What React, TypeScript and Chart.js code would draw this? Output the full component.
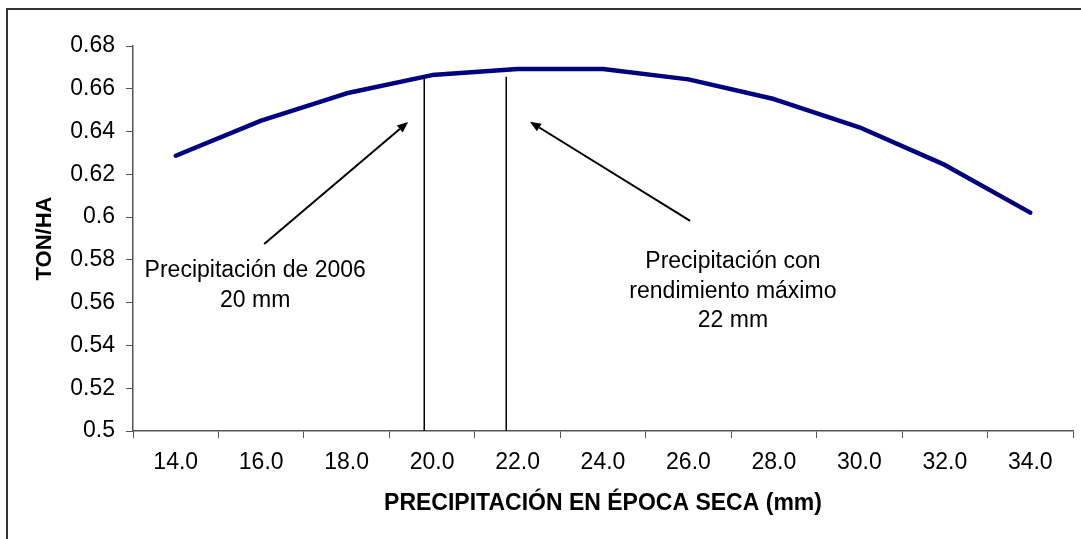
import React, { useEffect, useRef } from "react";
import { Chart, registerables } from "chart.js";

Chart.register(...registerables);

const categories = ["14.0", "16.0", "18.0", "20.0", "22.0", "24.0", "26.0", "28.0", "30.0", "32.0", "34.0"];
const yieldValues = [0.6287, 0.6451, 0.6579, 0.6664, 0.6692, 0.6692, 0.6644, 0.6552, 0.642, 0.6244, 0.6021];
const yTicks = [0.5, 0.52, 0.54, 0.56, 0.58, 0.6, 0.62, 0.64, 0.66, 0.68];

// reference lines (rain in mm, top value in ton/ha)
const markerRain = [19.82, 21.73];
const markerTop = [0.6656, 0.6656];

// arrows (from -> to) in data units
const arrowFromRain = [16.07, 26.04];
const arrowFromYield = [0.5874, 0.5982];
const arrowToRain = [19.44, 22.29];
const arrowToYield = [0.6445, 0.6446];

// notes
const noteRain = [15.86, 27.04];
const noteYield = [0.5748, 0.579];
const noteLines = [
  ["Precipitación de 2006", "20 mm"],
  ["Precipitación con", "rendimiento máximo", "22 mm"],
];

const FONT = "'Liberation Sans', Arial, sans-serif";
const firstRain = 14;
const rainStep = 2;

const overlay = {
  id: "overlay",
  beforeDraw(chart: any) {
    const ctx = chart.ctx;
    ctx.save();
    ctx.fillStyle = "#ffffff";
    ctx.fillRect(0, 0, chart.width, chart.height);
    ctx.strokeStyle = "#333333";
    ctx.lineWidth = 2;
    ctx.strokeRect(7, 9, chart.width + 20, chart.height + 20);
    ctx.restore();
  },
  afterDatasetsDraw(chart: any) {
    const ctx = chart.ctx;
    const xs = chart.scales.x;
    const ys = chart.scales.y;
    const px = (mm: number) => xs.getPixelForValue((mm - firstRain) / rainStep);
    const py = (v: number) => ys.getPixelForValue(v);
    ctx.save();
    // vertical markers
    ctx.strokeStyle = "#000000";
    ctx.lineWidth = 1.5;
    markerRain.forEach((mm, i) => {
      const x = Math.round(px(mm)) + 0.25;
      ctx.beginPath();
      ctx.moveTo(x, py(markerTop[i]));
      ctx.lineTo(x, ys.bottom);
      ctx.stroke();
    });
    // arrows
    ctx.lineWidth = 2;
    ctx.fillStyle = "#000000";
    arrowFromRain.forEach((mm, i) => {
      const x0 = px(mm), y0 = py(arrowFromYield[i]);
      const x1 = px(arrowToRain[i]), y1 = py(arrowToYield[i]);
      const ang = Math.atan2(y1 - y0, x1 - x0);
      const L = 11, W = 4.5;
      const bx = x1 - L * Math.cos(ang), by = y1 - L * Math.sin(ang);
      ctx.beginPath();
      ctx.moveTo(x0, y0);
      ctx.lineTo(bx, by);
      ctx.stroke();
      ctx.beginPath();
      ctx.moveTo(x1, y1);
      ctx.lineTo(bx + W * Math.sin(ang), by - W * Math.cos(ang));
      ctx.lineTo(bx - W * Math.sin(ang), by + W * Math.cos(ang));
      ctx.closePath();
      ctx.fill();
    });
    // notes
    ctx.font = `23px ${FONT}`;
    ctx.textAlign = "center";
    ctx.textBaseline = "middle";
    noteLines.forEach((lines, i) => {
      const x = px(noteRain[i]);
      const y = py(noteYield[i]);
      lines.forEach((t, j) => ctx.fillText(t, x, y + j * 29.5));
    });
    ctx.restore();
  },
};

export default function App() {
  const ref = useRef<HTMLCanvasElement | null>(null);
  useEffect(() => {
    if (!ref.current) return;
    const chart = new Chart(ref.current, {
      type: "line",
      data: {
        labels: categories,
        datasets: [
          {
            data: yieldValues,
            borderColor: "#000080",
            borderWidth: 4.5,
            borderCapStyle: "round",
            borderJoinStyle: "round",
            pointRadius: 0,
            fill: false,
            tension: 0,
          },
        ],
      },
      options: {
        animation: false,
        responsive: false,
        devicePixelRatio: 1,
        layout: { padding: { left: 0, top: 46, right: 8, bottom: 0 } },
        plugins: { legend: { display: false }, tooltip: { enabled: false } },
        scales: {
          x: {
            type: "category",
            offset: true,
            grid: { display: true, offset: true, drawOnChartArea: false, tickLength: 7, color: "#555555", tickWidth: 1 },
            border: { display: true, color: "#555555", width: 1.5 },
            ticks: { color: "#000000", font: { family: FONT, size: 23 }, padding: 11, maxRotation: 0, autoSkip: false },
            title: {
              display: true,
              text: "PRECIPITACIÓN EN ÉPOCA SECA (mm)",
              color: "#000000",
              font: { family: FONT, size: 23, weight: "bold" },
              padding: { top: 0, bottom: 22 },
            },
            afterFit: (s: any) => { s.height = 108; },
          },
          y: {
            type: "linear",
            min: 0.5,
            max: 0.68,
            afterBuildTicks: (s: any) => { s.ticks = yTicks.map((v) => ({ value: v })); },
            grid: { display: true, drawOnChartArea: false, tickLength: 7, color: "#555555", tickWidth: 1 },
            border: { display: true, color: "#555555", width: 1.5 },
            ticks: {
              color: "#000000",
              font: { family: FONT, size: 23 },
              padding: 11,
              callback: (v: any) => String(Number(Number(v).toFixed(2))),
            },
            title: {
              display: true,
              text: "TON/HA",
              color: "#000000",
              font: { family: FONT, size: 22, weight: "bold" },
              padding: { top: 32, bottom: 0 },
            },
            afterFit: (s: any) => { s.width = 133; },
          },
        },
      },
      plugins: [overlay],
    } as any);
    return () => chart.destroy();
  }, []);
  return (
    <canvas
      ref={ref}
      width={1081}
      height={539}
      style={{ position: "absolute", left: 0, top: 0, display: "block", width: 1081, height: 539 }}
    />
  );
}
